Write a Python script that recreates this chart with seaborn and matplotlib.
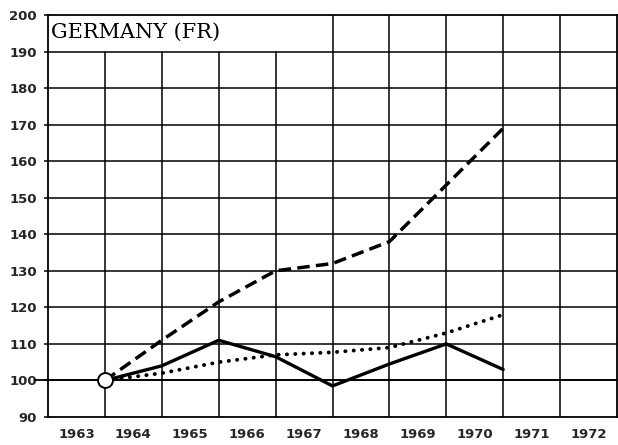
import matplotlib
matplotlib.use("Agg")
import matplotlib.pyplot as plt
import seaborn as sns
import pandas as pd
import numpy as np

# ---- data ----
year_labels = ["1963", "1964", "1965", "1966", "1967", "1968", "1969", "1970", "1971", "1972"]
period = [1, 2, 3, 4, 5, 6, 7, 8]          # year boundaries (end of 1963 ... end of 1970)
dashed_vals = [100, 111, 121.5, 130, 132, 138, 153.5, 169]
solid_vals = [100, 104, 111, 106.5, 98.5, 104.5, 110, 103]
dotted_vals = [100, 102, 105, 107, 107.7, 109, 113, 118]
base_point = [100]
y_ticks = [90, 100, 110, 120, 130, 140, 150, 160, 170, 180, 190, 200]
title_text = "GERMANY (FR)"

sns.set_style("white")
plt.rcParams['font.family'] = ['DejaVu Sans']

fig = plt.figure(figsize=(6.18, 4.45), dpi=100)
W, H = 618, 445
left, right, top, bottom = 48, 617, 15, 417
ax = fig.add_axes([left / W, 1 - bottom / H, (right - left) / W, (bottom - top) / H])

ax.set_xlim(0, 10)
ax.set_ylim(90, 200)

# grid: horizontal lines
for yv in y_ticks[1:-1]:
    ax.axhline(yv, color="black", lw=1.1, zorder=1)
# 100 line extends to the left up to the tick label
ax.axhline(100, xmin=-0.022, xmax=1, color="black", lw=1.3, zorder=1, clip_on=False)
# vertical lines (first four stop at 190 because of the title box)
for xv in range(1, 10):
    if xv <= 4:
        ax.axvline(xv, ymin=0, ymax=(190 - 90) / 110, color="black", lw=1.1, zorder=1)
    else:
        ax.axvline(xv, color="black", lw=1.1, zorder=1)

df = pd.DataFrame({"period": period, "dashed": dashed_vals,
                   "solid": solid_vals, "dotted": dotted_vals})

sns.lineplot(data=df, x="period", y="dashed", ax=ax, color="black", lw=2.5,
             linestyle=(0, (3.6, 1.8)), zorder=3)
sns.lineplot(data=df, x="period", y="solid", ax=ax, color="black", lw=2.4, zorder=3)
l = sns.lineplot(data=df, x="period", y="dotted", ax=ax, color="black", lw=2.8,
                 zorder=3)
l.lines[-1].set_linestyle((0, (0.05, 2.1)))
l.lines[-1].set_dash_capstyle("round")

sns.scatterplot(x=[period[0]], y=base_point, ax=ax, s=115, color="white",
                edgecolor="black", linewidth=1.4, zorder=5)

# title
ax.text(0.05, 195.2, title_text, fontsize=15, family="DejaVu Serif",
        va="center", ha="left", color="black", zorder=4)

# spines
for s in ax.spines.values():
    s.set_visible(True)
    s.set_color("black")
    s.set_linewidth(1.3)

ax.set_yticks(y_ticks)
ax.set_yticklabels([str(v) for v in y_ticks], fontsize=9.5, fontweight="bold")
ax.set_xticks(np.arange(10) + 0.5)
ax.set_xticklabels(year_labels, fontsize=9.5, fontweight="bold")
ax.tick_params(axis="y", length=3, width=1.1, pad=5, color="black", left=True)
ax.tick_params(axis="x", length=0, pad=8)
ax.set_xlabel("")
ax.set_ylabel("")
ax.grid(False)

fig.savefig("out.png", dpi=100)
